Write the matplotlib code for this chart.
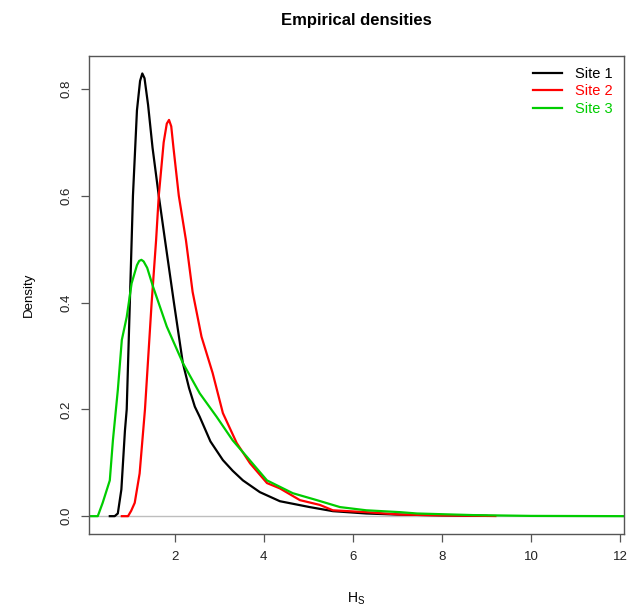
#!/usr/bin/env python3

import matplotlib
matplotlib.use("Agg")
import matplotlib.pyplot as plt

# =========================
# Data
# =========================
site1_x = [0.54, 0.65, 0.72, 0.80, 0.88, 0.92, 0.99, 1.06, 1.15, 1.22, 1.27,
           1.32, 1.40, 1.50, 1.64, 1.78, 1.98, 2.18, 2.32, 2.45, 2.56, 2.80,
           3.08, 3.30, 3.53, 3.91, 4.36, 5.03, 5.55, 6.30, 7.00, 8.00, 9.00]
site1_y = [0.0, 0.0, 0.005, 0.05, 0.16, 0.20, 0.40, 0.60, 0.76, 0.815, 0.829,
           0.82, 0.77, 0.69, 0.60, 0.517, 0.40, 0.287, 0.24, 0.205, 0.186, 0.14,
           0.105, 0.085, 0.067, 0.045, 0.028, 0.017, 0.0094, 0.005, 0.003, 0.0015, 0.0005]

site2_x = [0.81, 0.95, 1.02, 1.10, 1.21, 1.33, 1.48, 1.58, 1.64, 1.75, 1.82,
           1.87, 1.92, 1.97, 2.09, 2.25, 2.40, 2.60, 2.85, 3.08, 3.39, 3.69,
           4.07, 4.36, 4.81, 5.26, 5.55, 6.30, 7.06, 8.00, 9.20]
site2_y = [0.0, 0.0, 0.01, 0.025, 0.08, 0.20, 0.40, 0.517, 0.60, 0.70, 0.735,
           0.742, 0.73, 0.69, 0.60, 0.517, 0.42, 0.336, 0.268, 0.193, 0.137, 0.099,
           0.062, 0.052, 0.030, 0.021, 0.011, 0.0075, 0.003, 0.0015, 0.0003]

site3_x = [0.05, 0.27, 0.38, 0.54, 0.61, 0.72, 0.81, 0.92, 1.03, 1.15, 1.20,
           1.25, 1.30, 1.38, 1.51, 1.82, 2.18, 2.56, 2.94, 3.30, 3.62, 4.07,
           4.65, 5.19, 5.71, 6.30, 7.06, 7.44, 8.70, 10.0, 12.1]
site3_y = [0.0, 0.0, 0.025, 0.067, 0.142, 0.236, 0.33, 0.373, 0.436, 0.47, 0.478,
           0.48, 0.477, 0.465, 0.43, 0.355, 0.287, 0.23, 0.186, 0.142, 0.111, 0.067,
           0.043, 0.030, 0.017, 0.011, 0.0075, 0.005, 0.002, 0.0005, 0.0]

labels = ["Site 1", "Site 2", "Site 3"]
colors = ["black", "#FF0000", "#00CD00"]
x_ticks = [2, 4, 6, 8, 10, 12]
y_ticks = [0.0, 0.2, 0.4, 0.6, 0.8]

# =========================
# Plot
# =========================
plt.rcParams["font.family"] = ["Liberation Sans", "DejaVu Sans"]
plt.rcParams["mathtext.fontset"] = "custom"
plt.rcParams["mathtext.rm"] = "Liberation Sans"

fig = plt.figure(figsize=(6.44, 6.07), dpi=100)
ax = fig.add_axes([0.138, 0.120, 0.831, 0.788])

ax.axhline(0, color="#BEBEBE", lw=1.0, zorder=1)

series = [(site1_x, site1_y), (site2_x, site2_y), (site3_x, site3_y)]
for (xs, ys), lab, col in zip(series, labels, colors):
    ax.plot(xs, ys, color=col, lw=1.6, label=lab, zorder=2)

ax.set_xlim(0.07, 12.09)
ax.set_ylim(-0.0337, 0.862)
ax.set_xticks(x_ticks)
ax.set_xticklabels([str(t) for t in x_ticks])
ax.set_yticks(y_ticks)
ax.set_yticklabels([f"{t:.1f}" for t in y_ticks], rotation=90, va="center")

for s in ax.spines.values():
    s.set_color("#555555")
    s.set_linewidth(1.0)
ax.tick_params(direction="out", length=6, width=0.9, color="#555555",
               labelsize=9.5, labelcolor="#222222", pad=6)

ax.set_title("Empirical densities", fontsize=12, fontweight="bold", pad=22)
ax.set_xlabel(r"$\mathrm{H_S}$", fontsize=10, labelpad=20)
ax.set_ylabel("Density", fontsize=9.5, labelpad=18)

leg = ax.legend(loc="upper right", frameon=False, fontsize=10.5,
                labelcolor="linecolor", handlelength=2.0,
                handletextpad=0.9, labelspacing=0.25, borderaxespad=0.35)

fig.savefig("out.png", dpi=100)
plt.close(fig)
